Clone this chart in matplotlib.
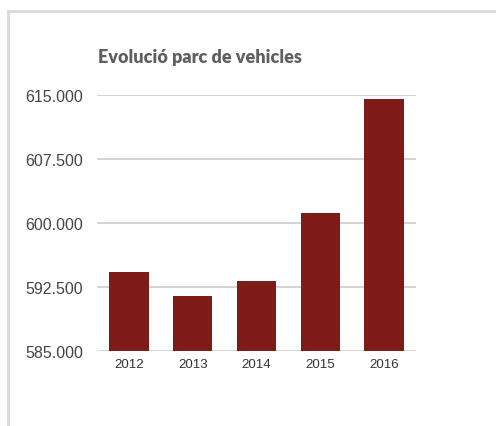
import matplotlib.pyplot as plt
from matplotlib.lines import Line2D
from matplotlib.ticker import FuncFormatter

# data
years = ["2012", "2013", "2014", "2015", "2016"]
vehicles = [594300, 591400, 593200, 601200, 614500]
y_ticks = [585000, 592500, 600000, 607500, 615000]

W, H = 496, 427
fig = plt.figure(figsize=(W / 100, H / 100), dpi=100)
fig.patch.set_facecolor("white")

# light frame around the card (top and left edges visible)
fig.add_artist(Line2D([8 / W, 8 / W], [0, 1 - 12 / H], color="#d9d9d9", lw=2,
                      transform=fig.transFigure))
fig.add_artist(Line2D([8 / W, 1], [1 - 12 / H, 1 - 12 / H], color="#d9d9d9", lw=2,
                      transform=fig.transFigure))

ax = fig.add_axes([97 / W, 1 - 352 / H, (416 - 97) / W, (352 - 96) / H])

x = range(len(years))
ax.bar(x, vehicles, width=0.62, color="#7d1b19", zorder=3)

ax.set_ylim(585000, 615000)
ax.set_xlim(-0.5, len(years) - 0.5)
ax.set_yticks(y_ticks)
ax.yaxis.set_major_formatter(FuncFormatter(lambda v, p: f"{int(v):,}".replace(",", ".")))
ax.set_xticks(list(x))
ax.set_xticklabels(years)

ax.grid(axis="y", color="#cccccc", lw=1.2, zorder=0)
for s in ax.spines.values():
    s.set_visible(False)
ax.tick_params(axis="y", length=0, pad=10, labelsize=11.5, labelcolor="#444444")
ax.tick_params(axis="x", length=0, pad=5, labelsize=9.5, labelcolor="#333333")
for lab in ax.get_yticklabels() + ax.get_xticklabels():
    lab.set_family("Liberation Sans")

fig.text(98 / W, 1 - 57 / H, "Evolució parc de vehicles", fontsize=13,
         fontweight="heavy", color="#5f5f5f", family="Lato", va="center", ha="left")

fig.savefig("out.png", dpi=100)
